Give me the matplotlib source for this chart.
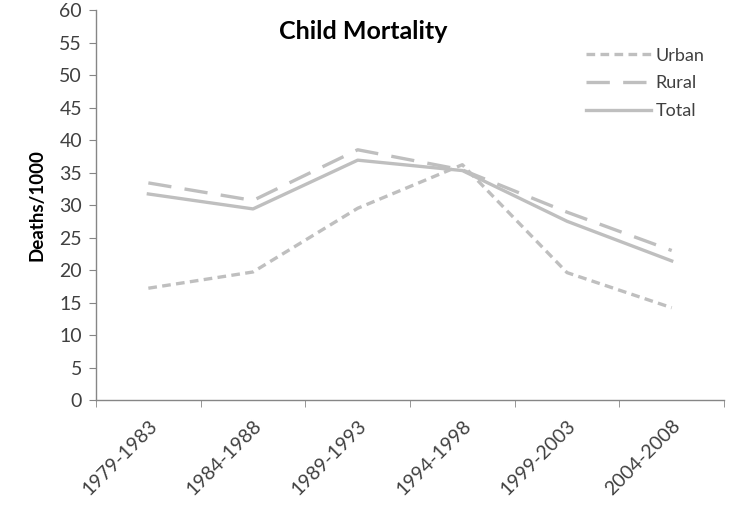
import matplotlib
matplotlib.use("Agg")
from matplotlib import pyplot as plt

periods = ["1979-1983", "1984-1988", "1989-1993", "1994-1998", "1999-2003", "2004-2008"]
urban = [17.2, 19.7, 29.5, 36.2, 19.6, 14.2]
rural = [33.4, 30.7, 38.5, 35.4, 28.9, 23.0]
total = [31.7, 29.4, 36.9, 35.3, 27.5, 21.4]

plt.rcParams["font.family"] = ["Lato", "DejaVu Sans"]
grey = "#BFBFBF"
text_col = "#404040"

fig = plt.figure(figsize=(7.29, 5.11), dpi=100)
ax = fig.add_axes([0.1317, 0.2172, 0.8615, 0.7632])

x = list(range(len(periods)))
ax.plot(x, urban, color=grey, lw=2.4, dashes=(2.6, 1.6), label="Urban")
ax.plot(x, rural, color=grey, lw=2.4, dashes=(7, 4), label="Rural")
ax.plot(x, total, color=grey, lw=2.4, label="Total")

ax.set_xlim(-0.5, len(periods) - 0.5)
ax.set_ylim(0, 60)
ax.set_yticks(range(0, 61, 5))
ax.set_xticks(x)
ax.set_xticklabels(periods, rotation=45, ha="right", rotation_mode="anchor")
ax.set_xticks([i - 0.5 for i in range(len(periods) + 1)], minor=True)
ax.tick_params(axis="x", which="major", length=0, pad=12, labelsize=14, labelcolor=text_col)
ax.tick_params(axis="x", which="minor", length=5, color="#868686", direction="out")
ax.tick_params(axis="y", length=5, color="#868686", labelsize=14, labelcolor=text_col, pad=5)

for side in ["top", "right"]:
    ax.spines[side].set_visible(False)
for side in ["left", "bottom"]:
    ax.spines[side].set_color("#868686")
    ax.spines[side].set_linewidth(1)

ax.set_ylabel("Deaths/1000", fontsize=13.5, fontweight="bold", labelpad=10)
ax.set_title("Child Mortality", fontsize=18, fontweight="bold", x=0.425, y=0.905)

leg = ax.legend(loc="upper right", bbox_to_anchor=(0.995, 0.945), frameon=False,
                fontsize=13, handlelength=3.6, handletextpad=0.25, labelspacing=0.65)
for t in leg.get_texts():
    t.set_color(text_col)

fig.savefig("out.png", dpi=100)
